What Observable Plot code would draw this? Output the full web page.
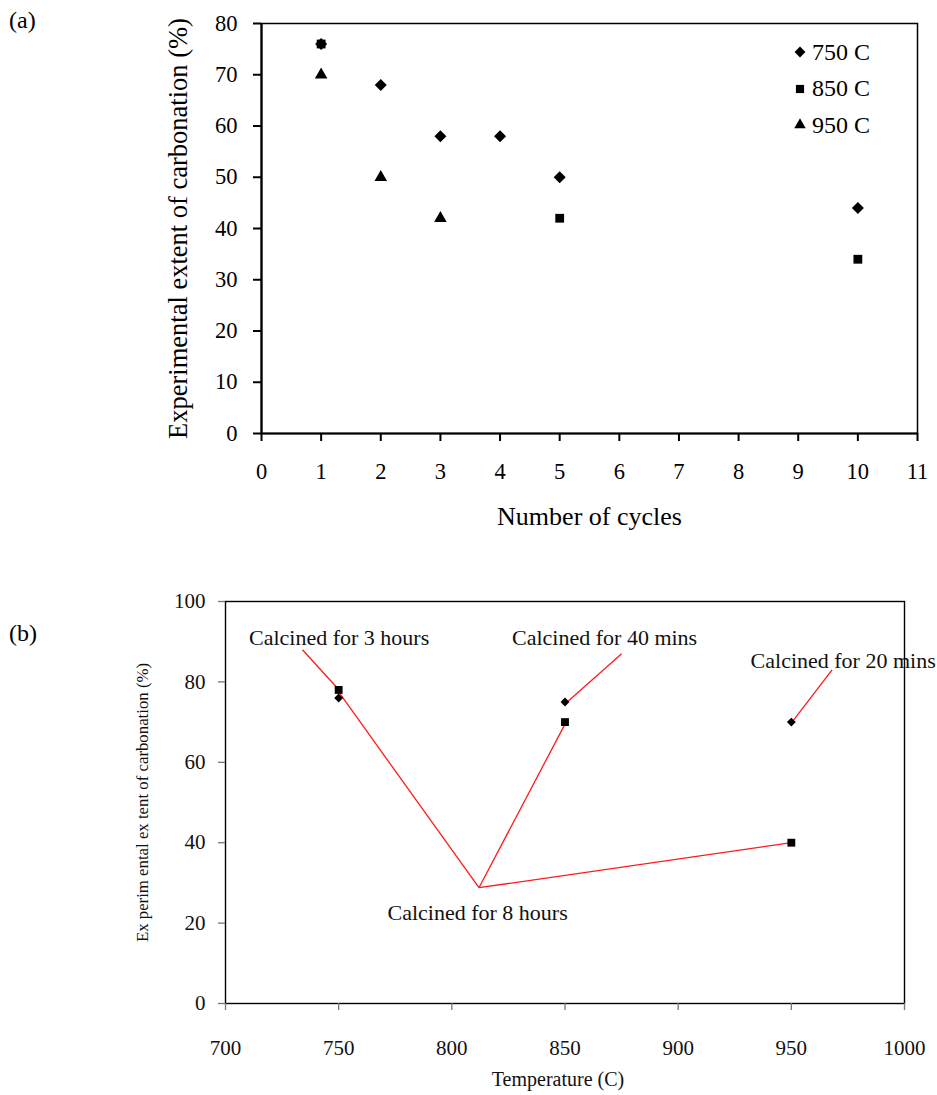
<!DOCTYPE html>
<html><head><meta charset="utf-8">
<script src="https://cdn.jsdelivr.net/npm/d3@7"></script>
<script src="https://cdn.jsdelivr.net/npm/@observablehq/plot@0.6"></script>
<style>
body{margin:0;background:#fff;width:937px;height:1095px;position:relative;overflow:hidden;font-family:"Liberation Serif","Times New Roman",serif;color:#000;}
.panel{position:absolute;left:0;}
.tag{position:absolute;left:9px;font-size:24px;line-height:24px;}
#legendA{position:absolute;left:792px;top:34px;font-size:24px;}
#legendA .row{display:flex;align-items:center;height:36.5px;}
#legendA span{margin-left:4px;}
svg text{font-family:"Liberation Serif","Times New Roman",serif;}
</style></head><body>
<div id="a" class="panel" style="top:0"></div>
<div id="b" class="panel" style="top:555px"></div>
<div class="tag" style="top:8px">(a)</div>
<div class="tag" style="top:621px">(b)</div>
<div id="legendA"></div>
<script>
// ---------- Panel (a) data ----------
const seriesA = ["750 C", "850 C", "950 C"];
const cycles750 = [1, 2, 3, 4, 5, 10];
const ext750 = [76, 68, 58, 58, 50, 44];
const cycles850 = [1, 5, 10];
const ext850 = [76, 42, 34];
const cycles950 = [1, 2, 3];
const ext950 = [70, 50, 42];
const xTicksA = [0,1,2,3,4,5,6,7,8,9,10,11];
const yTicksA = [0,10,20,30,40,50,60,70,80];
const xLabelA = "Number of cycles";
const yLabelA = "Experimental extent of carbonation (%)";

// ---------- Panel (b) data ----------
const tempB = [750, 850, 950];
const extDiamondB = [76, 75, 70];
const extSquareB = [78, 70, 40];
const xTicksB = [700,750,800,850,900,950,1000];
const yTicksB = [0,20,40,60,80,100];
const xLabelB = "Temperature (C)";
const yLabelB = "Ex perim ental ex tent of carbonation (%)";
const noteText = ["Calcined for 3 hours", "Calcined for 40 mins", "Calcined for 20 mins", "Calcined for 8 hours"];
const noteX = [750.2, 867.5, 972.9, 811.4];
const noteY = [91.0, 91.0, 85.3, 22.6];
// leader lines (start -> end, in data units)
const leadX1 = [734, 875, 968, 812, 812, 812];
const leadY1 = [88, 87, 83, 28.8, 28.8, 28.8];
const leadX2 = [751, 851, 951, 750, 850, 950];
const leadY2 = [77.5, 75, 70.5, 77.5, 69.5, 40];

const serif = '"Liberation Serif", "Times New Roman", serif';
const fmt = d => String(d);
const pts = (xs, ys) => xs.map((x, i) => ({x, y: ys[i]}));

const plotA = Plot.plot({
  width: 937, height: 545,
  marginLeft: 261, marginRight: 20, marginTop: 23, marginBottom: 112,
  style: {fontFamily: serif, fontSize: "22px", color: "#000", background: "transparent", overflow: "visible"},
  x: {domain: [0, 11]},
  y: {domain: [0, 80]},
  marks: [
    Plot.frame({stroke: "#000", strokeWidth: 1.5}),
    Plot.axisX({ticks: xTicksA, tickFormat: fmt, tickSize: 8, tickPadding: 22, label: null, strokeWidth: 2, fontSize: 22.5, fontFamily: serif}),
    Plot.axisY({ticks: yTicksA, tickFormat: fmt, tickSize: 8, tickPadding: 16, label: null, strokeWidth: 2, fontSize: 22.5, fontFamily: serif}),
    Plot.ruleY([0], {stroke: "#000", strokeWidth: 2.2}),
    Plot.ruleX([0], {stroke: "#000", strokeWidth: 2.2}),
    Plot.dot(pts(cycles950, ext950), {x: "x", y: "y", symbol: "triangle2", r: 6, fill: "#000", stroke: "none"}),
    Plot.dot(pts(cycles850, ext850), {x: "x", y: "y", symbol: "square2", r: 5.6, fill: "#000", stroke: "none"}),
    Plot.dot(pts(cycles750, ext750), {x: "x", y: "y", symbol: "diamond2", r: 5.4, fill: "#000", stroke: "none"}),
    Plot.text([xLabelA], {text: d => d, frameAnchor: "bottom", dy: 91, fontSize: 26, fill: "#000", fontFamily: serif}),
    Plot.text([yLabelA], {text: d => d, frameAnchor: "left", textAnchor: "middle", rotate: -90, dx: -83, fontSize: 26.5, fill: "#000", fontFamily: serif})
  ]
});
document.getElementById("a").appendChild(plotA);

// legend (a)
const legSymbols = [d3.symbolDiamond2, d3.symbolSquare2, d3.symbolTriangle2];
const legSizes = [75, 85, 95];
const leg = d3.select("#legendA");
seriesA.forEach((name, i) => {
  const row = leg.append("div").attr("class", "row");
  const svg = row.append("svg").attr("width", 16).attr("height", 16);
  svg.append("path").attr("transform", "translate(8,8)")
     .attr("d", d3.symbol(legSymbols[i], legSizes[i])()).attr("fill", "#000");
  row.append("span").text(name);
});

const plotB = Plot.plot({
  width: 937, height: 540,
  marginLeft: 225, marginRight: 33, marginTop: 46, marginBottom: 92,
  style: {fontFamily: serif, fontSize: "21px", color: "#111", background: "transparent", overflow: "visible"},
  x: {domain: [700, 1000]},
  y: {domain: [0, 100]},
  marks: [
    Plot.frame({stroke: "#000", strokeWidth: 1.4}),
    Plot.axisX({ticks: xTicksB, tickFormat: fmt, tickSize: 7, tickPadding: 30, label: null, stroke: "#777", strokeWidth: 1.3, fontSize: 21, fontFamily: serif}),
    Plot.axisY({ticks: yTicksB, tickFormat: fmt, tickSize: 7, tickPadding: 13, label: null, stroke: "#777", strokeWidth: 1.3, fontSize: 21, fontFamily: serif}),
    Plot.link(leadX1.map((x1, i) => ({x1, y1: leadY1[i], x2: leadX2[i], y2: leadY2[i]})),
      {x1: "x1", y1: "y1", x2: "x2", y2: "y2", stroke: "#ff1a1a", strokeWidth: 1.3}),
    Plot.dot(pts(tempB, extSquareB), {x: "x", y: "y", symbol: "square2", r: 5, fill: "#000", stroke: "none"}),
    Plot.dot(pts(tempB, extDiamondB), {x: "x", y: "y", symbol: "diamond2", r: 4, fill: "#000", stroke: "none"}),
    Plot.text(noteText.map((t, i) => ({t, x: noteX[i], y: noteY[i]})),
      {x: "x", y: "y", text: "t", fontSize: 22, fill: "#111", fontFamily: serif}),
    Plot.text([xLabelB], {text: d => d, frameAnchor: "bottom", dx: -7, dy: 82, fontSize: 20, fill: "#111", fontFamily: serif}),
    Plot.text([yLabelB], {text: d => d, frameAnchor: "left", textAnchor: "middle", rotate: -90, dx: -83, fontSize: 16.8, fill: "#111", fontFamily: serif})
  ]
});
document.getElementById("b").appendChild(plotB);
</script>
</body></html>
